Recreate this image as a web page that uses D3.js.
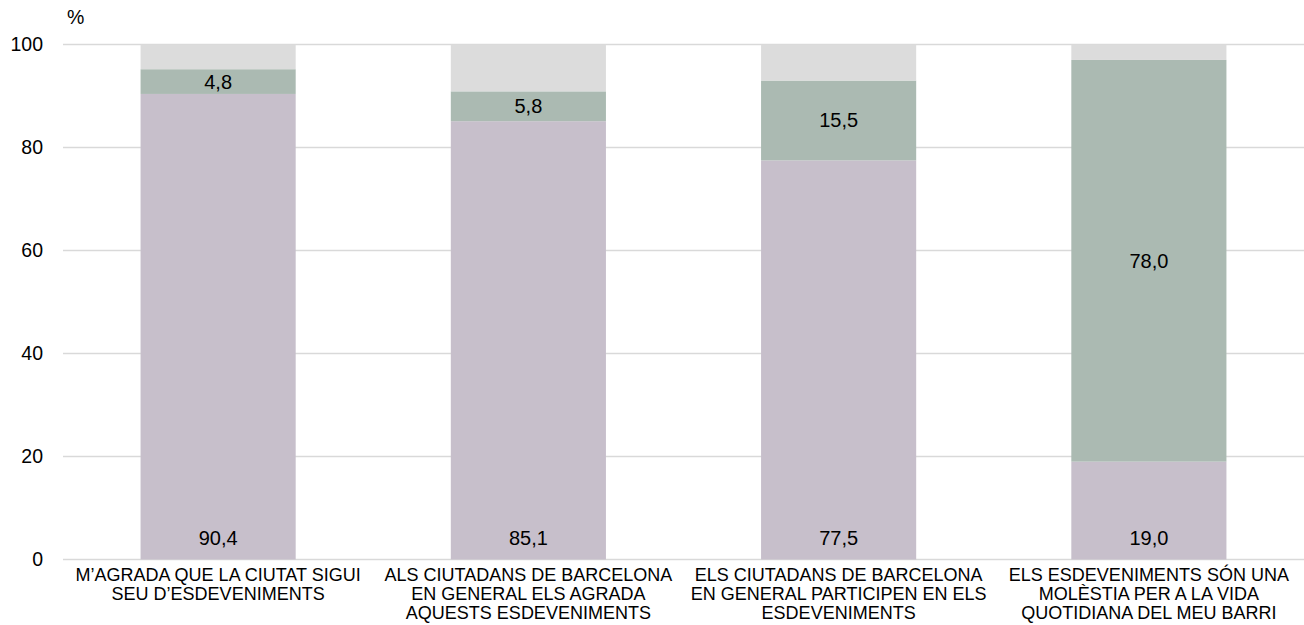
<!DOCTYPE html>
<html><head><meta charset="utf-8">
<script src="https://cdn.jsdelivr.net/npm/d3@7"></script>
<style>body{margin:0;background:#fff}svg{display:block}text{font-family:"Liberation Sans",Arial,sans-serif;fill:#000}</style>
</head><body>
<svg id="c" width="1304" height="625"></svg>
<script>
const categories = [
  ["M’AGRADA QUE LA CIUTAT SIGUI","SEU D’ESDEVENIMENTS"],
  ["ALS CIUTADANS DE BARCELONA","EN GENERAL ELS AGRADA","AQUESTS ESDEVENIMENTS"],
  ["ELS CIUTADANS DE BARCELONA","EN GENERAL PARTICIPEN EN ELS","ESDEVENIMENTS"],
  ["ELS ESDEVENIMENTS SÓN UNA","MOLÈSTIA PER A LA VIDA","QUOTIDIANA DEL MEU BARRI"]
];
const agree = [90.4, 85.1, 77.5, 19.0];
const disagree = [4.8, 5.8, 15.5, 78.0];
const other = [4.8, 9.1, 7.0, 3.0];
const yTicks = [0, 20, 40, 60, 80, 100];
const seriesNames = ["agree","disagree","other"];
const colors = {agree:"#c7bfcb", disagree:"#abbab2", other:"#dcdcdc"};

const svg = d3.select("#c");
const m = {l:63, r:0, t:44.5, b:65.5};
const W = 1304, H = 625;
const x = d3.scaleBand().domain(d3.range(categories.length)).range([m.l, W - m.r]).paddingInner(0.5).paddingOuter(0.25);
const y = d3.scaleLinear().domain([0,100]).range([H - m.b, m.t]);

// gridlines
svg.append("g").selectAll("line").data(yTicks).join("line")
  .attr("x1", m.l).attr("x2", W).attr("y1", d=>y(d)).attr("y2", d=>y(d))
  .attr("stroke", "#d9d9d9").attr("stroke-width", 1.3);

const rows = categories.map((c,i)=>({i, agree:agree[i], disagree:disagree[i], other:other[i]}));
const stack = d3.stack().keys(seriesNames)(rows);

svg.append("g").selectAll("g").data(stack).join("g")
  .attr("fill", d=>colors[d.key])
  .selectAll("rect").data(d=>d).join("rect")
  .attr("x", d=>x(d.data.i)).attr("width", x.bandwidth())
  .attr("y", d=>y(d[1])).attr("height", d=>y(d[0]) - y(d[1]));

const fmt = v => d3.format(".1f")(v).replace(".", ",");
// agree labels, inside base
svg.append("g").selectAll("text").data(rows).join("text")
  .attr("x", d=>x(d.i) + x.bandwidth()/2).attr("y", y(0) - 14.5)
  .attr("text-anchor","middle").attr("font-size", 20).text(d=>fmt(d.agree));
// disagree labels centered
svg.append("g").selectAll("text").data(rows).join("text")
  .attr("x", d=>x(d.i) + x.bandwidth()/2).attr("y", d=>y(d.agree + d.disagree/2))
  .attr("dy","0.35em")
  .attr("text-anchor","middle").attr("font-size", 20).text(d=>fmt(d.disagree));

// y axis labels
const yAxis = d3.axisLeft(y).tickValues(yTicks).tickSize(0).tickPadding(0);
const ga = svg.append("g").attr("transform", `translate(${43},0)`).call(yAxis);
ga.select(".domain").remove();
ga.selectAll("text").attr("font-size", 19.5).attr("font-family", '"Liberation Sans",Arial,sans-serif').attr("fill","#000");
svg.append("text").attr("x", 67).attr("y", 24).attr("font-size", 19.5).text("%");

// category labels
const cl = svg.append("g").selectAll("text").data(categories).join("text")
  .attr("x", (d,i)=>x(i) + x.bandwidth()/2).attr("y", 581)
  .attr("text-anchor","middle").attr("font-size", 18);
cl.selectAll("tspan").data(d=>d).join("tspan")
  .attr("x", function(){return this.parentNode.getAttribute("x");})
  .attr("dy", (d,j)=> j===0 ? 0 : 18.8).text(d=>d);
</script>
</body></html>
